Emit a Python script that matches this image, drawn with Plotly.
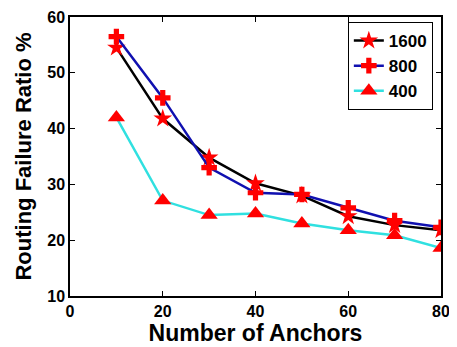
import plotly.graph_objects as go

anchors = [10, 20, 30, 40, 50, 60, 70, 80]
s1600 = [54.5, 41.8, 34.8, 30.2, 28.0, 24.3, 22.7, 21.8]
s800 = [56.5, 45.5, 33.0, 28.5, 28.2, 25.8, 23.5, 22.3]
s400 = [42.0, 27.1, 24.5, 24.8, 23.0, 21.8, 20.9, 18.6]
xticks = [0, 20, 40, 60, 80]
yticks = [10, 20, 30, 40, 50, 60]

FONT = "Liberation Sans"

fig = go.Figure()
fig.add_trace(go.Scatter(x=anchors, y=s1600, name="1600", mode="lines+markers",
                         line=dict(color="black", width=2.5),
                         marker=dict(symbol="star", size=14, color="red")))
fig.add_trace(go.Scatter(x=anchors, y=s800, name="800", mode="lines+markers",
                         line=dict(color="#1010b0", width=2.5),
                         marker=dict(symbol="cross", size=13, color="red")))
fig.add_trace(go.Scatter(x=anchors, y=s400, name="400", mode="lines+markers",
                         line=dict(color="#30e0e0", width=2.5),
                         marker=dict(symbol="triangle-up", size=15, color="red")))

axis_common = dict(showline=True, linecolor="black", linewidth=1.5, mirror="ticks",
                   ticks="inside", ticklen=5, tickcolor="black", showgrid=False,
                   zeroline=False, automargin=False, ticklabeloverflow="allow",
                   tickfont=dict(family=FONT, size=16, color="black", weight="bold"))
fig.update_xaxes(range=[0, 80], tickvals=xticks,
                 title=dict(text="Number of Anchors", standoff=0,
                            font=dict(family=FONT, size=23, color="black", weight="bold")),
                 **axis_common)
fig.update_yaxes(range=[10, 60], tickvals=yticks,
                 title=dict(text="Routing Failure Ratio %", standoff=10,
                            font=dict(family=FONT, size=22, color="black", weight="bold")),
                 **axis_common)
# page body has an 8px margin, so the figure is sized to fit the 457x347 window
fig.update_layout(width=449, height=339, plot_bgcolor="white", paper_bgcolor="white",
                  margin=dict(l=62, r=16, t=9, b=51, autoexpand=False),
                  legend=dict(x=0.978, y=0.982, xanchor="right", yanchor="top",
                              bordercolor="black", borderwidth=1, bgcolor="white",
                              font=dict(family=FONT, size=17, color="black", weight="bold"),
                              itemwidth=30, tracegroupgap=0),
                  showlegend=True)
fig.write_html("out.html")
